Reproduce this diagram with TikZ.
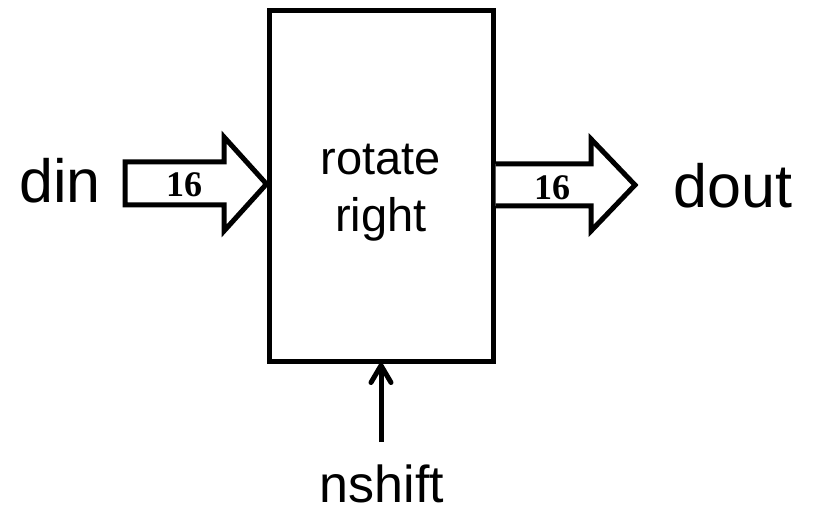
\documentclass[tikz,border=0pt]{standalone}
\usepackage{fontspec}
\setmainfont{Liberation Sans}
\newfontfamily\numfont{Liberation Serif}
\begin{document}
\begin{tikzpicture}[x=1pt,y=-1pt,
  thick line/.style={line width=5pt, line join=miter},
  busarrow/.style={thick line, fill=white},
  portlabel/.style={font=\fontsize{61}{70}\selectfont, anchor=base, inner sep=0pt},
  widthlabel/.style={font=\numfont\bfseries\fontsize{36}{40}\selectfont, anchor=base, inner sep=0pt}]
\useasboundingbox (0,0) rectangle (813,510);

% rotator block
\node[draw, thick line, minimum width=224pt, minimum height=350pt, inner sep=0pt]
  (blk) at (381,186) {};
\node[font=\fontsize{47}{57}\selectfont, align=center, anchor=base, inner sep=0pt]
  (op) at (381,232) {rotate\\right};

% input bus
\coordinate (inTip) at (blk.west |- 0,184);
\draw[busarrow] (125,162) -- (224,162) -- (224,137) -- (inTip) -- (224,231) -- (224,205) -- (125,205) -- cycle;
\node[widthlabel] (win) at (184,197) {16};
\node[portlabel] (din) at (60,203) {din};

% output bus
\coordinate (outA) at (blk.east |- 0,164);
\coordinate (outB) at (blk.east |- 0,206);
\coordinate (outTip) at (635,185);
\draw[busarrow] (outA) -- (591,164) -- (591,139) -- (outTip) -- (591,231) -- (591,206) -- (outB);
\node[widthlabel] (wout) at (552,200) {16};
\node[portlabel] (dout) at (733,208) {dout};

% shift amount input
\node[font=\fontsize{52}{60}\selectfont, anchor=base, inner sep=0pt] (ns) at (382,502) {nshift};
\coordinate (nsTop) at (381,442);
\coordinate (nsTip) at (blk.south -| nsTop);
\draw[line width=5pt] (nsTop) -- ([yshift=-2pt]nsTip);
\draw[line width=5pt, line cap=round, line join=round]
  ([xshift=-10pt,yshift=-19pt]nsTip) -- ([yshift=-2pt]nsTip) -- ([xshift=10pt,yshift=-19pt]nsTip);
\end{tikzpicture}
\end{document}
